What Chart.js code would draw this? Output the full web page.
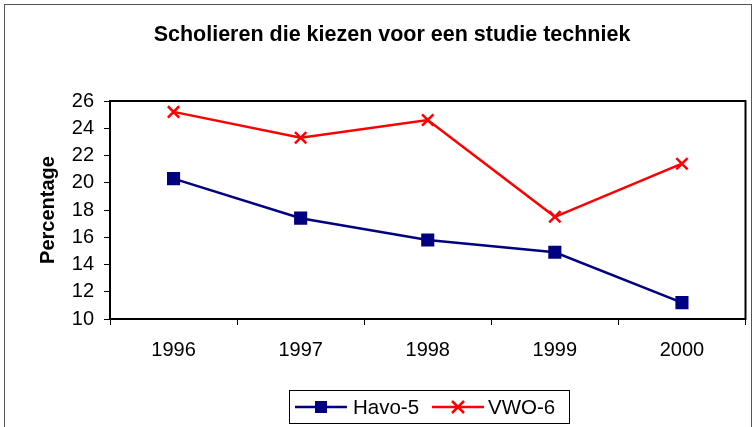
<!DOCTYPE html>
<html>
<head>
<meta charset="utf-8">
<script src="https://cdn.jsdelivr.net/npm/chart.js@4"></script>
<style>
  body { margin: 0; background: #fff; }
  #wrap { width: 756px; height: 427px; }
</style>
</head>
<body>
<div id="wrap"><canvas id="chart" width="756" height="427"></canvas></div>
<script>
const years = ["1996", "1997", "1998", "1999", "2000"];
const havo = [20.3, 17.4, 15.8, 14.9, 11.2];
const vwo = [25.2, 23.3, 24.6, 17.5, 21.4];
const yTicks = [10, 12, 14, 16, 18, 20, 22, 24, 26];

const FONT = "'Liberation Sans', Arial, sans-serif";

// outer frame, plot frame and the boxed legend
const framePlugin = {
  id: "frames",
  beforeDraw(chart) {
    const c = chart.ctx;
    c.save();
    c.fillStyle = "#fff";
    c.fillRect(0, 0, chart.width, chart.height);
    c.strokeStyle = "#555";
    c.lineWidth = 1;
    c.strokeRect(4.5, 4.5, chart.width - 9, chart.height + 10);
    c.restore();
  },
  afterDraw(chart) {
    const c = chart.ctx;
    const a = chart.chartArea;
    c.save();
    c.strokeStyle = "#000";
    c.lineWidth = 2;
    c.strokeRect(a.left, a.top, a.right - a.left, a.bottom - a.top);

    // legend
    c.lineWidth = 1;
    c.strokeStyle = "#000";
    c.strokeRect(289.5, 390.5, 280, 33);
    const cy = 407;
    c.font = "20.5px " + FONT;
    c.textBaseline = "middle";
    c.textAlign = "left";
    const items = [
      { ds: chart.data.datasets[0], x0: 295, x1: 347, tx: 353 },
      { ds: chart.data.datasets[1], x0: 432, x1: 484, tx: 488 }
    ];
    items.forEach(it => {
      c.strokeStyle = it.ds.borderColor;
      c.lineWidth = 2.5;
      c.beginPath();
      c.moveTo(it.x0, cy);
      c.lineTo(it.x1, cy);
      c.stroke();
      const mx = (it.x0 + it.x1) / 2;
      if (it.ds.pointStyle === "rect") {
        c.fillStyle = it.ds.pointBackgroundColor;
        c.fillRect(mx - 6, cy - 6, 12, 12);
      } else {
        c.beginPath();
        c.moveTo(mx - 6, cy - 6); c.lineTo(mx + 6, cy + 6);
        c.moveTo(mx + 6, cy - 6); c.lineTo(mx - 6, cy + 6);
        c.stroke();
      }
      c.fillStyle = "#000";
      c.fillText(it.ds.label, it.tx, cy + 1);
    });
    c.restore();
  }
};

new Chart(document.getElementById("chart"), {
  type: "line",
  data: {
    labels: years,
    datasets: [
      {
        label: "Havo-5",
        data: havo,
        borderColor: "#000080",
        backgroundColor: "#000080",
        pointBackgroundColor: "#000080",
        pointBorderColor: "#000080",
        pointStyle: "rect",
        pointRadius: 7.5,
        pointHoverRadius: 7.5,
        borderWidth: 2.5,
        tension: 0
      },
      {
        label: "VWO-6",
        data: vwo,
        borderColor: "#ff0000",
        backgroundColor: "#ff0000",
        pointBorderColor: "#ff0000",
        pointStyle: "cross",
        pointRotation: 45,
        pointRadius: 8,
        pointHoverRadius: 8,
        pointBorderWidth: 2.5,
        borderWidth: 2.5,
        tension: 0
      }
    ]
  },
  options: {
    responsive: false,
    animation: false,
    layout: { padding: { left: 36, right: 8, top: 0, bottom: 0 } },
    plugins: {
      legend: { display: false },
      tooltip: { enabled: false },
      title: {
        display: true,
        text: "Scholieren die kiezen voor een studie techniek",
        color: "#000",
        font: { family: FONT, size: 21.5, weight: "bold" },
        padding: { top: 22.1, bottom: 53.1 }
      }
    },
    scales: {
      x: {
        offset: true,
        grid: { offset: true, drawOnChartArea: false, color: "#000", tickLength: 6, tickWidth: 1 },
        border: { color: "#000", width: 2 },
        ticks: { color: "#000", padding: 13, font: { family: FONT, size: 20 } },
        afterFit(axis) { axis.height = 108; }
      },
      y: {
        min: 10,
        max: 26,
        afterBuildTicks(axis) { axis.ticks = yTicks.map(v => ({ value: v })); },
        grid: { drawOnChartArea: false, color: "#000", tickLength: 6, tickWidth: 1 },
        border: { color: "#000", width: 2 },
        ticks: { color: "#000", padding: 10, font: { family: FONT, size: 20 } },
        title: {
          display: true,
          text: "Percentage",
          color: "#000",
          font: { family: FONT, size: 20, weight: "bold" },
          padding: { top: 0, bottom: 10 }
        },
        afterFit(axis) { axis.width = 74; }
      }
    }
  },
  plugins: [framePlugin]
});
</script>
</body>
</html>
